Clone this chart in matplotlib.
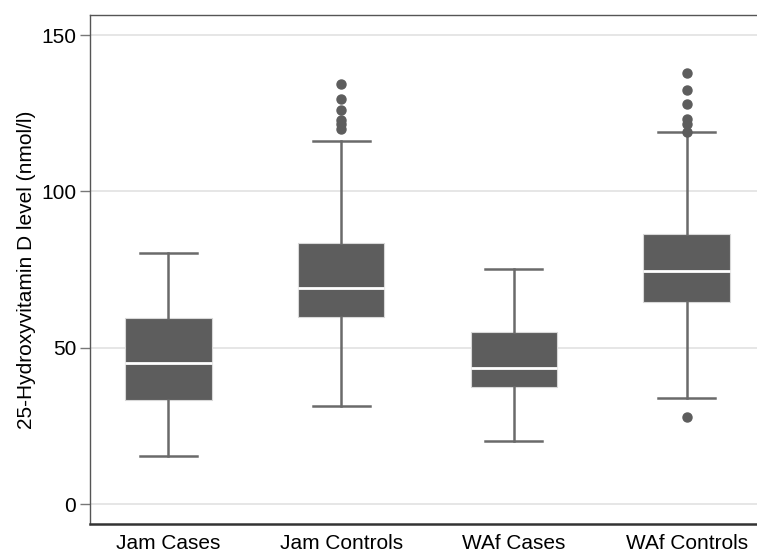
import matplotlib.pyplot as plt

plt.rcParams['font.family'] = ['Liberation Sans', 'DejaVu Sans']

groups = ["Jam Cases", "Jam Controls", "WAf Cases", "WAf Controls"]
whis_lo = [15.5, 31.3, 20.2, 33.9]
q1 = [33.3, 59.9, 37.4, 64.5]
median = [45.0, 69.2, 43.5, 74.6]
q3 = [59.5, 83.6, 55.0, 86.3]
whis_hi = [80.4, 116.1, 75.2, 118.9]
outliers = [
    [],
    [119.8, 121.5, 122.8, 125.9, 129.4, 134.4],
    [],
    [27.8, 119.0, 121.7, 123.3, 127.9, 132.3, 137.7],
]

stats = []
for i in range(len(groups)):
    stats.append({"label": groups[i], "whislo": whis_lo[i], "q1": q1[i],
                  "med": median[i], "q3": q3[i], "whishi": whis_hi[i],
                  "fliers": outliers[i]})

fig = plt.figure(figsize=(7.57, 5.52), dpi=100)
ax = fig.add_axes([0.119, 0.0507, 1.0106 - 0.119, 0.9728 - 0.0507])

box_col = "#5d5d5d"
line_col = "#6a6a6a"
ax.bxp(stats, positions=range(4), widths=0.5, patch_artist=True,
       boxprops=dict(facecolor=box_col, edgecolor="#d8d8d8", linewidth=0.8),
       medianprops=dict(color="white", linewidth=2),
       whiskerprops=dict(color=line_col, linewidth=1.8),
       capprops=dict(color=line_col, linewidth=1.8),
       capwidths=0.33,
       flierprops=dict(marker="o", markerfacecolor=box_col, markeredgecolor=box_col,
                       markersize=6.5))

ax.set_xlim(-0.454, 3.454)
ax.set_ylim(-6.4, 156.4)
ax.set_yticks([0, 50, 100, 150])
ax.yaxis.grid(True, color="#e2e2e2", linewidth=1.2)
ax.set_axisbelow(True)
ax.tick_params(axis="x", length=0, labelsize=15, pad=7, colors="black")
ax.tick_params(axis="y", length=7, width=1, color="#777777", labelsize=15, pad=3)
ax.set_ylabel("25-Hydroxyvitamin D level (nmol/l)", fontsize=15, labelpad=4)

for s in ["left", "top", "right"]:
    ax.spines[s].set_color("#555555")
    ax.spines[s].set_linewidth(1.0)
ax.spines["bottom"].set_color("#333333")
ax.spines["bottom"].set_linewidth(1.8)

fig.savefig("out.png", dpi=100)
